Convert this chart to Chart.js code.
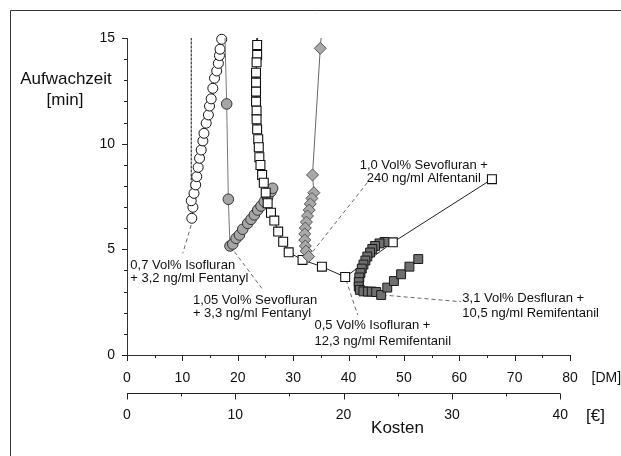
<!DOCTYPE html>
<html lang="de">
<head>
<meta charset="UTF-8">
<title>Aufwachzeit und Kosten</title>
<script src="https://cdn.jsdelivr.net/npm/chart.js"></script>
<style>
  html, body { margin: 0; padding: 0; background: #fff; }
  canvas { display: block; }
</style>
</head>
<body>
<canvas id="kostenChart" width="621" height="456"></canvas>
<script>
// Achsen
const yMax = 15;
const dmMax = 80;
const euroMax = 40;
const dmPerEuro = 1.95583;

// 0,7 Vol% Isofluran + 3,2 ng/ml Fentanyl (offene Kreise)
const isoFentX = [11.7, 11.9, 11.6, 12.1, 12.4, 12.6, 12.85, 13.1, 13.4, 13.7, 13.9, 14.3, 14.7, 14.9, 15.2, 15.5, 15.8, 16.2, 16.5, 16.7, 16.8, 17.1];
const isoFentY = [6.47, 6.99, 7.30, 7.65, 8.05, 8.44, 8.88, 9.31, 9.70, 10.13, 10.49, 10.97, 11.36, 11.78, 12.12, 12.62, 13.10, 13.44, 13.80, 14.17, 14.47, 14.94];
// senkrechte Linie daneben
const isoLineX = [11.6, 11.6];
const isoLineY = [7.5, 15];

// 1,05 Vol% Sevofluran + 3,3 ng/ml Fentanyl (graue Kreise)
const sevoFentX = [17.7, 18.0, 18.3, 18.6, 19.1, 19.7, 20.3, 20.9, 21.8, 22.4, 23.0, 23.6, 24.2, 24.8, 25.4, 26.0, 26.3];
const sevoFentY = [15, 11.88, 7.37, 5.16, 5.25, 5.52, 5.68, 5.95, 6.23, 6.42, 6.63, 6.86, 7.05, 7.26, 7.46, 7.73, 7.89];

// 0,5 Vol% Isofluran + 12,3 ng/ml Remifentanil (offene Quadrate)
const isoRemiX = [23.5, 23.5, 23.5, 23.4, 23.3, 23.3, 23.3, 23.3, 23.4, 23.4, 23.5, 23.7, 23.8, 23.9, 24.1, 24.4, 24.7, 25.05, 25.4, 26.0, 26.6, 27.3, 28.2, 29.2, 31.7, 35.2, 39.4, 48.0, 65.9];
const isoRemiY = [15, 14.67, 14.2, 13.85, 13.36, 12.89, 12.46, 11.99, 11.56, 11.15, 10.68, 10.21, 9.83, 9.36, 8.99, 8.52, 8.15, 7.68, 7.18, 6.73, 6.36, 5.84, 5.36, 4.86, 4.50, 4.18, 3.69, 5.33, 8.32];

// 1,0 Vol% Sevofluran + 240 ng/ml Alfentanil (graue Rauten)
const sevoAlfX = [35.05, 34.9, 33.5, 33.75, 33.4, 33.1, 32.9, 32.6, 32.4, 32.2, 32.1, 32.1, 32.2, 32.35, 32.8];
const sevoAlfY = [15, 14.51, 8.52, 7.68, 7.41, 7.15, 6.86, 6.58, 6.29, 6.01, 5.73, 5.44, 5.16, 4.92, 4.66];

// 3,1 Vol% Desfluran + 10,5 ng/ml Remifentanil (dunkle Quadrate)
const desRemiX = [46.5, 45.6, 44.8, 44.3, 43.9, 43.4, 43.05, 42.7, 42.4, 42.15, 41.95, 41.85, 41.85, 42.05, 42.7, 43.5, 44.2, 45.0, 45.9, 47.0, 48.2, 49.5, 51.0, 52.6];
const desRemiY = [5.35, 5.28, 5.16, 5.02, 4.85, 4.66, 4.47, 4.28, 4.09, 3.88, 3.67, 3.45, 3.24, 3.08, 3.01, 3.00, 3.00, 2.98, 2.84, 3.19, 3.50, 3.82, 4.18, 4.54];

// Beschriftungen mit Hinweislinien (Datenkoordinaten)
const notes = [
  { lines: ['0,7 Vol% Isofluran', '+ 3,2 ng/ml Fentanyl'], x: 0.6, y: [4.26, 3.62], align: 'left', from: [11.59, 6.15], to: [10.07, 4.81] },
  { lines: ['1,05 Vol% Sevofluran', '+ 3,3 ng/ml Fentanyl'], x: 11.9, y: [2.58, 1.96], align: 'left', from: [19.4, 4.89], to: [24.33, 3.16] },
  { lines: ['1,0 Vol% Sevofluran +', '240 ng/ml Alfentanil'], x: 53.6, y: [8.99, 8.36], align: 'center', from: [33.54, 4.89], to: [43.77, 8.28] },
  { lines: ['0,5 Vol% Isofluran +', '12,3 ng/ml Remifentanil'], x: 33.85, y: [1.42, 0.66], align: 'left', from: [39.57, 3.55], to: [41.66, 1.89] },
  { lines: ['3,1 Vol% Desfluran +', '10,5 ng/ml Remifentanil'], x: 60.56, y: [2.68, 1.97], align: 'left', from: [46.17, 2.84], to: [60.32, 2.52] }
];

const pts = (xs, ys) => xs.map((v, i) => ({ x: v, y: ys[i] }));
const FONT = "'Liberation Sans', Arial, sans-serif";
Chart.defaults.font.family = FONT;
Chart.defaults.color = '#111';

// Punkt am oberen Rand nur als Linienende, ohne Marker
const radius = r => c => (c.raw && c.raw.y >= yMax ? 0 : r);

const decor = {
  id: 'decor',
  beforeDatasetsDraw(chart) {
    const { ctx, scales: { x, y } } = chart;
    ctx.save();
    ctx.strokeStyle = '#444';
    ctx.lineWidth = 0.8;
    ctx.setLineDash([4, 3]);
    notes.forEach(n => {
      ctx.beginPath();
      ctx.moveTo(x.getPixelForValue(n.from[0]), y.getPixelForValue(n.from[1]));
      ctx.lineTo(x.getPixelForValue(n.to[0]), y.getPixelForValue(n.to[1]));
      ctx.stroke();
    });
    ctx.restore();
  },
  afterDraw(chart) {
    const { ctx, chartArea: a, scales: { x, xe, y } } = chart;
    ctx.save();
    // Rahmen
    ctx.strokeStyle = '#333';
    ctx.lineWidth = 1;
    ctx.beginPath();
    ctx.moveTo(10.5, chart.height);
    ctx.lineTo(10.5, 10.5);
    ctx.lineTo(chart.width, 10.5);
    ctx.stroke();

    // Teilstriche
    ctx.strokeStyle = '#222';
    ctx.beginPath();
    for (let v = 0; v <= yMax; v++) {
      const py = Math.round(y.getPixelForValue(v)) + 0.5;
      ctx.moveTo(a.left, py);
      ctx.lineTo(a.left - (v % 5 === 0 ? 5 : 3), py);
    }
    for (let v = 0; v <= dmMax; v += 5) {
      const px = Math.round(x.getPixelForValue(v)) + 0.5;
      ctx.moveTo(px, a.bottom);
      ctx.lineTo(px, a.bottom + (v % 10 === 0 ? 6 : 3));
    }
    const ey = Math.round(xe.top) + 0.5;
    ctx.moveTo(xe.getPixelForValue(0), ey);
    ctx.lineTo(xe.getPixelForValue(euroMax), ey);
    for (let v = 0; v <= euroMax; v += 5) {
      const px = Math.round(xe.getPixelForValue(v)) + 0.5;
      ctx.moveTo(px, ey);
      ctx.lineTo(px, ey + (v % 10 === 0 ? 6 : 3));
    }
    ctx.stroke();

    // Achsentitel
    ctx.fillStyle = '#111';
    ctx.textBaseline = 'middle';
    ctx.textAlign = 'center';
    ctx.font = '17px ' + FONT;
    ctx.fillText('Aufwachzeit', 66, 79.5);
    ctx.fillText('[min]', 65, 100);
    ctx.fillText('Kosten', 397.5, 428.5);
    ctx.textAlign = 'left';
    ctx.fillText('[\u20AC]', 586, 416.5);
    ctx.font = '14px ' + FONT;
    ctx.fillText('[DM]', 591.5, 378.5);

    // Kurvenbeschriftungen
    ctx.font = '13px ' + FONT;
    notes.forEach(n => {
      ctx.textAlign = n.align;
      n.lines.forEach((t, i) => ctx.fillText(t, x.getPixelForValue(n.x), y.getPixelForValue(n.y[i])));
    });
    ctx.restore();
  }
};

new Chart(document.getElementById('kostenChart'), {
  type: 'scatter',
  data: {
    datasets: [
      {
        label: '3,1 Vol% Desfluran + 10,5 ng/ml Remifentanil',
        data: pts(desRemiX, desRemiY),
        order: 0, showLine: true, clip: 10,
        borderColor: '#333', borderWidth: 1,
        pointStyle: 'rect', pointRadius: radius(6.3),
        pointBackgroundColor: '#6f6f6f', pointBorderColor: '#1a1a1a', pointBorderWidth: 1
      },
      {
        label: '1,0 Vol% Sevofluran + 240 ng/ml Alfentanil',
        data: pts(sevoAlfX, sevoAlfY),
        order: 1, showLine: true, clip: 10,
        borderColor: '#666', borderWidth: 1,
        pointStyle: 'rectRot', pointRadius: radius(6),
        pointBackgroundColor: '#a9a9a9', pointBorderColor: '#555', pointBorderWidth: 1
      },
      {
        label: '0,5 Vol% Isofluran + 12,3 ng/ml Remifentanil',
        data: pts(isoRemiX, isoRemiY),
        order: 2, showLine: true, clip: 10,
        borderColor: '#222', borderWidth: 1,
        pointStyle: 'rect', pointRadius: radius(6.3),
        pointBackgroundColor: '#fff', pointBorderColor: '#111', pointBorderWidth: 1.1
      },
      {
        label: '1,05 Vol% Sevofluran + 3,3 ng/ml Fentanyl',
        data: pts(sevoFentX, sevoFentY),
        order: 3, showLine: true, clip: 10,
        borderColor: '#777', borderWidth: 1,
        pointStyle: 'circle', pointRadius: radius(5.3),
        pointBackgroundColor: '#a6a6a6', pointBorderColor: '#333', pointBorderWidth: 1
      },
      {
        label: '0,7 Vol% Isofluran + 3,2 ng/ml Fentanyl',
        data: pts(isoFentX, isoFentY),
        order: 4, showLine: true, clip: 10,
        borderColor: '#444', borderWidth: 1,
        pointStyle: 'circle', pointRadius: radius(5),
        pointBackgroundColor: '#fff', pointBorderColor: '#111', pointBorderWidth: 1
      },
      {
        label: 'Isofluran Linie',
        data: pts(isoLineX, isoLineY),
        order: 5, showLine: true,
        borderColor: '#111', borderWidth: 1, borderDash: [3, 1],
        pointRadius: 0
      }
    ]
  },
  options: {
    responsive: false,
    animation: false,
    layout: { padding: { left: 0, top: 38, right: 51, bottom: 0 } },
    plugins: { legend: { display: false }, tooltip: { enabled: false } },
    scales: {
      x: {
        type: 'linear', position: 'bottom', weight: 0,
        min: 0, max: dmMax,
        grid: { display: false, drawTicks: false },
        border: { display: true, color: '#333', width: 1 },
        ticks: { stepSize: 10, padding: 15, font: { size: 14 }, maxRotation: 0, autoSkip: false },
        afterFit: s => { s.height = 38; }
      },
      xe: {
        type: 'linear', position: 'bottom', weight: 1,
        min: 0, max: dmMax / dmPerEuro,
        grid: { display: false, drawTicks: false },
        border: { display: false },
        ticks: { stepSize: 10, includeBounds: false, padding: 14, font: { size: 14 }, maxRotation: 0, autoSkip: false },
        afterFit: s => { s.height = 63; }
      },
      y: {
        type: 'linear', position: 'left',
        min: 0, max: yMax,
        grid: { display: false, drawTicks: false },
        border: { display: true, color: '#333', width: 1 },
        ticks: { stepSize: 5, padding: 12, font: { size: 14 } },
        afterFit: s => { s.width = 127; }
      }
    }
  },
  plugins: [decor]
});
</script>
</body>
</html>
